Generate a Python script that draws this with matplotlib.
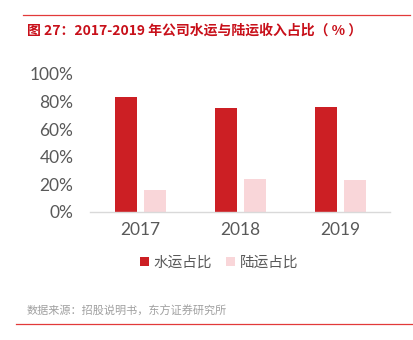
import matplotlib
matplotlib.use("Agg")
import matplotlib.pyplot as plt
from matplotlib.lines import Line2D
import numpy as np

plt.rcParams['font.family'] = ['Noto Sans CJK SC', 'DejaVu Sans']

categories = ['2017', '2018', '2019']
water = [0.831, 0.756, 0.763]
land = [0.159, 0.239, 0.232]
series_names = ['水运占比', '陆运占比']
yticks = [0, 0.2, 0.4, 0.6, 0.8, 1.0]
ytick_labels = ['0%', '20%', '40%', '60%', '80%', '100%']
title = '图 27：2017-2019 年公司水运与陆运收入占比（ % ）'
source = '数据来源：招股说明书，东方证券研究所'

W, H = 413, 340
fig = plt.figure(figsize=(W / 100, H / 100), dpi=100)

red = '#CC1F24'
pink = '#F9D6D9'
gray = '#595959'
line_red = '#E23A3A'

ax = fig.add_axes([90 / W, (H - 212) / H, 300 / W, (212 - 74) / H])
x = np.arange(len(categories))
bw = 0.22
ax.bar(x - 0.14, water, width=bw, color=red, label=series_names[0], clip_on=False)
ax.bar(x + 0.145, land, width=bw, color=pink, label=series_names[1], clip_on=False)
ax.set_xlim(-0.5, 2.5)
ax.set_ylim(0, 1.0)
ax.set_yticks(yticks)
ax.set_yticklabels(ytick_labels, color=gray, fontsize=12.5, fontfamily=['Lato'])
ax.set_xticks(x)
ax.set_xticklabels(categories, color=gray, fontsize=12.5, fontfamily=['Lato'])
ax.tick_params(axis='both', length=0)
ax.tick_params(axis='y', pad=12)
ax.tick_params(axis='x', pad=7)
for s in ['top', 'right', 'left']:
    ax.spines[s].set_visible(False)
ax.spines['bottom'].set_color('#D9D9D9')
ax.spines['bottom'].set_linewidth(1)

leg = fig.legend(loc='center', bbox_to_anchor=(219 / W, 1 - 263 / H), ncol=2, frameon=False,
                 fontsize=10.5, handlelength=0.6, handleheight=0.6, handletextpad=0.3,
                 columnspacing=1.0)
for t in leg.get_texts():
    t.set_color(gray)

fig.add_artist(Line2D([23 / W, 410 / W], [1 - 15 / H, 1 - 15 / H], color=line_red, lw=0.9))
fig.add_artist(Line2D([16 / W, 413 / W], [1 - 324 / H, 1 - 324 / H], color=line_red, lw=0.9))

fig.text(27 / W, 1 - 31 / H, title, color='#C8101A', fontsize=10, fontweight='bold',
         va='center', ha='left')
fig.text(27 / W, 1 - 311 / H, source, color='#A0A0A0', fontsize=8, va='center', ha='left')

fig.savefig('out.png', dpi=100)
